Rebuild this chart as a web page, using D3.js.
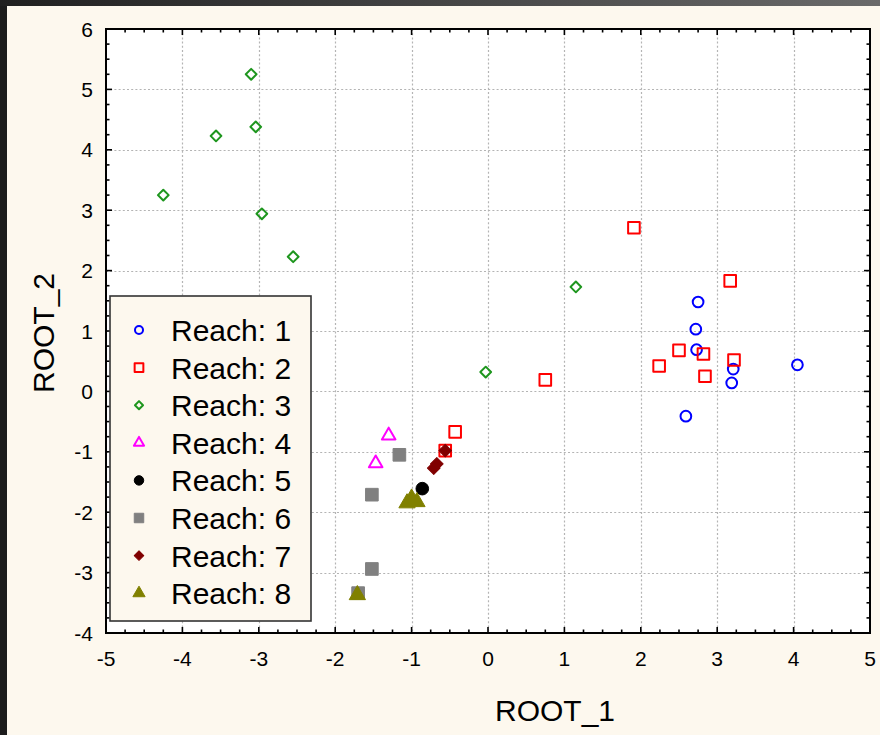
<!DOCTYPE html>
<html>
<head>
<meta charset="utf-8">
<script src="https://cdn.jsdelivr.net/npm/d3@7"></script>
<style>
  html, body { margin: 0; padding: 0; background: #1c1c1c; }
  svg { display: block; }
  text { font-family: "Liberation Sans", Arial, sans-serif; fill: #000; }
</style>
</head>
<body>
<svg id="chart" width="880" height="735"></svg>
<script>
// Discriminant scores (ROOT_1, ROOT_2) per reach
const reachNames = ["Reach: 1", "Reach: 2", "Reach: 3", "Reach: 4", "Reach: 5", "Reach: 6", "Reach: 7", "Reach: 8"];

const reach1 = [[2.75, 1.48], [2.72, 1.03], [2.73, 0.69], [3.21, 0.37], [3.19, 0.14], [4.05, 0.44], [2.59, -0.41]];
const reach2 = [[1.91, 2.71], [3.17, 1.83], [2.50, 0.68], [2.82, 0.62], [2.24, 0.42], [3.22, 0.52], [2.84, 0.25], [0.75, 0.19], [-0.43, -0.67], [-0.56, -0.98]];
const reach3 = [[-3.10, 5.25], [-3.56, 4.23], [-3.04, 4.38], [-4.25, 3.25], [-2.96, 2.94], [-2.55, 2.23], [1.15, 1.73], [-0.03, 0.32]];
const reach4 = [[-1.30, -0.73], [-1.47, -1.19]];
const reach5 = [[-0.86, -1.61]];
const reach6 = [[-1.16, -1.05], [-1.52, -1.71], [-1.52, -2.94], [-1.70, -3.34]];
const reach7 = [[-0.56, -0.98], [-0.67, -1.20], [-0.71, -1.27]];
const reach8 = [[-1.00, -1.77], [-1.06, -1.85], [-0.93, -1.83], [-1.71, -3.37]];

const xTicks = [-5, -4, -3, -2, -1, 0, 1, 2, 3, 4, 5];
const yTicks = [-4, -3, -2, -1, 0, 1, 2, 3, 4, 5, 6];

const groups = [reach1, reach2, reach3, reach4, reach5, reach6, reach7, reach8];

// Marker style per reach: shape, colour, filled or open
const markerStyles = [
  { shape: "circle",   color: "#0000ff", fill: false },
  { shape: "square",   color: "#ff0000", fill: false },
  { shape: "diamond",  color: "#1e961e", fill: false },
  { shape: "triangle", color: "#ff00ff", fill: false },
  { shape: "circle",   color: "#000000", fill: true },
  { shape: "square",   color: "#808080", fill: true },
  { shape: "diamond",  color: "#800000", fill: true },
  { shape: "triangle", color: "#808000", fill: true }
];

const svg = d3.select("#chart");

// window frame: dark strips top and left, cream page
const frameGrad = svg.append("defs").append("linearGradient")
  .attr("id", "topbar").attr("x1", "0").attr("x2", "1");
frameGrad.append("stop").attr("offset", "0").attr("stop-color", "#202020");
frameGrad.append("stop").attr("offset", "1").attr("stop-color", "#6a6a6a");
svg.append("rect").attr("x", 0).attr("y", 0).attr("width", 880).attr("height", 735).attr("fill", "#1c1c1c");
svg.append("rect").attr("x", 0).attr("y", 0).attr("width", 880).attr("height", 6).attr("fill", "url(#topbar)");
svg.append("rect").attr("x", 7).attr("y", 6).attr("width", 873).attr("height", 729).attr("fill", "#fdf8ee");

const plot = { left: 106, right: 870, top: 29, bottom: 633 };

const x = d3.scaleLinear().domain([-5, 5]).range([plot.left, plot.right]);
const y = d3.scaleLinear().domain([-4, 6]).range([plot.bottom, plot.top]);

svg.append("rect")
  .attr("x", plot.left).attr("y", plot.top)
  .attr("width", plot.right - plot.left).attr("height", plot.bottom - plot.top)
  .attr("fill", "#ffffff");

// dotted grid at major ticks
const grid = svg.append("g").attr("stroke", "#b4b4b4").attr("stroke-width", 1.2).attr("stroke-dasharray", "2,2.2");
grid.selectAll("line.vx").data(xTicks.slice(1, -1)).join("line")
  .attr("x1", d => Math.round(x(d)) + 0.5).attr("x2", d => Math.round(x(d)) + 0.5)
  .attr("y1", plot.top).attr("y2", plot.bottom);
grid.selectAll("line.hy").data(yTicks.slice(1, -1)).join("line")
  .attr("y1", d => Math.round(y(d)) + 0.5).attr("y2", d => Math.round(y(d)) + 0.5)
  .attr("x1", plot.left).attr("x2", plot.right);

// inward ticks on all four sides (major + 3 minor per unit)
const xMinor = d3.range(-5, 5.001, 0.25);
const yMinor = d3.range(-4, 6.001, 0.25);
const isMajor = v => Math.abs(v - Math.round(v)) < 1e-6;
const tickG = svg.append("g").attr("stroke", "#000").attr("stroke-width", 1.6);
[plot.bottom, plot.top].forEach((yy, i) => {
  const dir = i === 0 ? -1 : 1;
  tickG.append("g").selectAll("line").data(xMinor).join("line")
    .attr("x1", d => x(d)).attr("x2", d => x(d))
    .attr("y1", yy).attr("y2", d => yy + dir * (isMajor(d) ? 6 : 3.5));
});
[plot.left, plot.right].forEach((xx, i) => {
  const dir = i === 0 ? 1 : -1;
  tickG.append("g").selectAll("line").data(yMinor).join("line")
    .attr("y1", d => y(d)).attr("y2", d => y(d))
    .attr("x1", xx).attr("x2", d => xx + dir * (isMajor(d) ? 6 : 3.5));
});

// plot frame
svg.append("rect")
  .attr("x", plot.left).attr("y", plot.top)
  .attr("width", plot.right - plot.left).attr("height", plot.bottom - plot.top)
  .attr("fill", "none").attr("stroke", "#000").attr("stroke-width", 2);

// tick labels
svg.append("g").selectAll("text").data(xTicks).join("text")
  .attr("x", d => x(d)).attr("y", plot.bottom + 33)
  .attr("text-anchor", "middle").attr("font-size", 21)
  .text(d => d);
svg.append("g").selectAll("text").data(yTicks).join("text")
  .attr("x", plot.left - 13).attr("y", d => y(d) + 7.5)
  .attr("text-anchor", "end").attr("font-size", 21)
  .text(d => d);

// axis titles
svg.append("text").attr("x", 555).attr("y", 721)
  .attr("text-anchor", "middle").attr("font-size", 30).text("ROOT_1");
svg.append("text").attr("transform", "translate(54,333) rotate(-90)")
  .attr("text-anchor", "middle").attr("font-size", 30).text("ROOT_2");

// marker path generator (open and filled markers sized separately)
const markerArea = {
  circle:   { open: 90,  filled: 125 },
  square:   { open: 135, filled: 160 },
  diamond:  { open: 58,  filled: 80 },
  triangle: { open: 80,  filled: 115 }
};
function markerPath(st, scale) {
  const s = scale || 1;
  const a = markerArea[st.shape][st.fill ? "filled" : "open"] * s * s;
  if (st.shape === "circle") return d3.symbol(d3.symbolCircle, a)();
  if (st.shape === "triangle") return d3.symbol(d3.symbolTriangle, a)();
  return d3.symbol(d3.symbolSquare, a)();
}
function drawMarker(sel, st, scale) {
  sel.attr("d", markerPath(st, scale))
    .attr("fill", st.fill ? st.color : "none")
    .attr("stroke", st.color)
    .attr("stroke-width", st.fill ? 1 : 2)
    .attr("stroke-linejoin", "round");
}

// scatter points
const pts = svg.append("g");
groups.forEach((data, gi) => {
  const st = markerStyles[gi];
  pts.append("g").selectAll("path").data(data).join("path")
    .attr("transform", d => `translate(${x(d[0])},${y(d[1])})` + (st.shape === "diamond" ? " rotate(45)" : ""))
    .call(sel => drawMarker(sel, st, 1));
});

// legend
const legend = svg.append("g");
legend.append("rect").attr("x", 110).attr("y", 296).attr("width", 201).attr("height", 325)
  .attr("fill", "#fdf8ee").attr("stroke", "#333").attr("stroke-width", 1.6);
const rowY = i => 330 + i * 37.6;
reachNames.forEach((name, i) => {
  const st = markerStyles[i];
  legend.append("path")
    .attr("transform", `translate(139,${rowY(i)})` + (st.shape === "diamond" ? " rotate(45)" : ""))
    .call(sel => drawMarker(sel, st, 0.75));
  legend.append("text").attr("x", 171).attr("y", rowY(i) + 11)
    .attr("font-size", 30).text(name);
});
</script>
</body>
</html>
